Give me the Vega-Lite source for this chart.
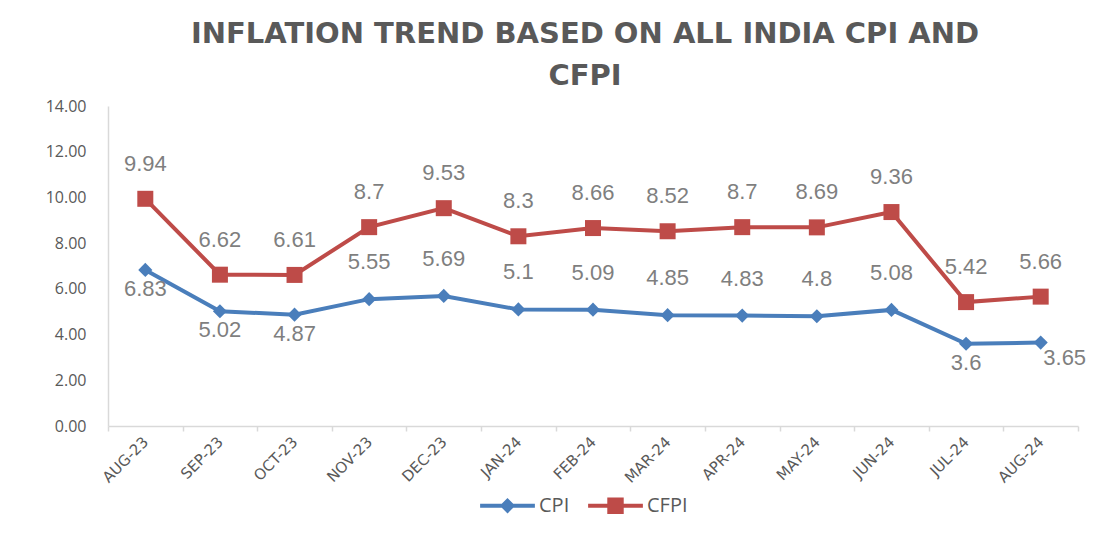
{
  "$schema": "https://vega.github.io/schema/vega-lite/v6.json",
  "autosize": "none",
  "width": 970,
  "height": 320,
  "padding": {"left": 108, "top": 106, "right": 31, "bottom": 134},
  "background": "white",
  "title": {
    "text": ["INFLATION TREND BASED ON ALL INDIA CPI AND", "CFPI"],
    "font": "DejaVu Sans",
    "fontSize": 29,
    "fontWeight": "bold",
    "color": "#595959",
    "lineHeight": 42,
    "offset": 7,
    "anchor": "middle",
    "dx": -8
  },
  "config": {"view": {"stroke": null}},
  "data": {
    "values": [
      {"month": "AUG-23", "series": "CPI", "value": 6.83},
      {"month": "SEP-23", "series": "CPI", "value": 5.02},
      {"month": "OCT-23", "series": "CPI", "value": 4.87},
      {"month": "NOV-23", "series": "CPI", "value": 5.55},
      {"month": "DEC-23", "series": "CPI", "value": 5.69},
      {"month": "JAN-24", "series": "CPI", "value": 5.1},
      {"month": "FEB-24", "series": "CPI", "value": 5.09},
      {"month": "MAR-24", "series": "CPI", "value": 4.85},
      {"month": "APR-24", "series": "CPI", "value": 4.83},
      {"month": "MAY-24", "series": "CPI", "value": 4.8},
      {"month": "JUN-24", "series": "CPI", "value": 5.08},
      {"month": "JUL-24", "series": "CPI", "value": 3.6},
      {"month": "AUG-24", "series": "CPI", "value": 3.65},
      {"month": "AUG-23", "series": "CFPI", "value": 9.94},
      {"month": "SEP-23", "series": "CFPI", "value": 6.62},
      {"month": "OCT-23", "series": "CFPI", "value": 6.61},
      {"month": "NOV-23", "series": "CFPI", "value": 8.7},
      {"month": "DEC-23", "series": "CFPI", "value": 9.53},
      {"month": "JAN-24", "series": "CFPI", "value": 8.3},
      {"month": "FEB-24", "series": "CFPI", "value": 8.66},
      {"month": "MAR-24", "series": "CFPI", "value": 8.52},
      {"month": "APR-24", "series": "CFPI", "value": 8.7},
      {"month": "MAY-24", "series": "CFPI", "value": 8.69},
      {"month": "JUN-24", "series": "CFPI", "value": 9.36},
      {"month": "JUL-24", "series": "CFPI", "value": 5.42},
      {"month": "AUG-24", "series": "CFPI", "value": 5.66}
    ]
  },
  "encoding": {
    "x": {
      "field": "month",
      "type": "ordinal",
      "sort": null,
      "bandPosition": 0.5,
      "scale": {"type": "band", "paddingInner": 0, "paddingOuter": 0},
      "axis": {
        "title": null,
        "grid": false,
        "tickBand": "extent",
        "labelAngle": -45,
        "labelAlign": "right",
        "labelBaseline": "middle",
        "labelFont": "DejaVu Sans",
        "labelFontSize": 15,
        "labelColor": "#595959",
        "labelPadding": 8,
        "domainColor": "#d9d9d9",
        "domainWidth": 1.5,
        "tickColor": "#d9d9d9",
        "tickWidth": 1.5,
        "tickSize": 5
      }
    },
    "y": {
      "field": "value",
      "type": "quantitative",
      "scale": {"domain": [0, 14], "nice": false},
      "axis": {
        "title": null,
        "grid": false,
        "ticks": false,
        "values": [0, 2, 4, 6, 8, 10, 12, 14],
        "format": ".2f",
        "labelFont": "Open Sans",
        "labelFontSize": 16,
        "labelColor": "#595959",
        "labelPadding": 22,
        "domainColor": "#d9d9d9",
        "domainWidth": 1.5
      }
    }
  },
  "layer": [
    {
      "transform": [{"filter": "datum.series === 'CPI'"}],
      "mark": {"type": "line", "color": "#4a7ebb", "strokeWidth": 4}
    },
    {
      "transform": [{"filter": "datum.series === 'CFPI'"}],
      "mark": {"type": "line", "color": "#be4b48", "strokeWidth": 4}
    },
    {
      "transform": [{"filter": "datum.series === 'CPI'"}],
      "mark": {"type": "point", "shape": "diamond", "filled": true, "opacity": 1, "color": "#4a7ebb", "size": 200}
    },
    {
      "transform": [{"filter": "datum.series === 'CFPI'"}],
      "mark": {"type": "point", "shape": "square", "filled": true, "opacity": 1, "color": "#be4b48", "size": 256}
    },
    {
      "transform": [{"filter": "datum.series === 'CFPI'"}],
      "mark": {"type": "text", "font": "Liberation Sans", "fontSize": 22, "color": "#7f7f7f", "dy": -35},
      "encoding": {"text": {"field": "value", "type": "quantitative"}}
    },
    {
      "transform": [{"filter": "datum.series === 'CPI'"}, {"filter": {"not": {"field": "month", "oneOf": ["AUG-23", "SEP-23", "OCT-23", "JUL-24", "AUG-24"]}}}],
      "mark": {"type": "text", "font": "Liberation Sans", "fontSize": 22, "color": "#7f7f7f", "dy": -37},
      "encoding": {"text": {"field": "value", "type": "quantitative"}}
    },
    {
      "transform": [{"filter": "datum.series === 'CPI'"}, {"filter": {"field": "month", "oneOf": ["AUG-23", "SEP-23", "OCT-23", "JUL-24"]}}],
      "mark": {"type": "text", "font": "Liberation Sans", "fontSize": 22, "color": "#7f7f7f", "dy": 19},
      "encoding": {"text": {"field": "value", "type": "quantitative"}}
    },
    {
      "transform": [{"filter": "datum.series === 'CPI'"}, {"filter": {"field": "month", "equal": "AUG-24"}}],
      "mark": {"type": "text", "font": "Liberation Sans", "fontSize": 22, "color": "#7f7f7f", "dx": 24, "dy": 15},
      "encoding": {"text": {"field": "value", "type": "quantitative"}}
    },
    {
      "transform": [{"filter": "datum.month === 'AUG-23'"}],
      "mark": {"type": "point", "filled": true, "opacity": 0},
      "encoding": {
        "color": {
          "field": "series",
          "type": "nominal",
          "scale": {"domain": ["CPI", "CFPI"], "range": ["#4a7ebb", "#be4b48"]},
          "legend": {
            "title": null,
            "orient": "none",
            "legendX": 372,
            "legendY": 372,
            "direction": "horizontal",
            "symbolSize": 3000,
            "symbolOpacity": 1,
            "symbolStrokeWidth": 0,
            "labelFont": "Open Sans",
            "labelFontSize": 20,
            "labelColor": "#595959",
            "labelOffset": 4,
            "columnPadding": 18
          }
        },
        "shape": {
          "field": "series",
          "type": "nominal",
          "scale": {
            "domain": ["CPI", "CFPI"],
            "range": [
              "M-1,-0.07L-0.21,-0.07L0,-0.28L0.21,-0.07L1,-0.07L1,0.07L0.21,0.07L0,0.28L-0.21,0.07L-1,0.07Z",
              "M-1,-0.07L-0.3,-0.07L-0.3,-0.3L0.3,-0.3L0.3,-0.07L1,-0.07L1,0.07L0.3,0.07L0.3,0.3L-0.3,0.3L-0.3,0.07L-1,0.07Z"
            ]
          },
          "legend": {
            "title": null,
            "orient": "none",
            "legendX": 372,
            "legendY": 372,
            "direction": "horizontal",
            "symbolSize": 3000,
            "symbolOpacity": 1,
            "symbolStrokeWidth": 0,
            "labelFont": "Open Sans",
            "labelFontSize": 20,
            "labelColor": "#595959",
            "labelOffset": 4,
            "columnPadding": 18
          }
        }
      }
    }
  ]
}
